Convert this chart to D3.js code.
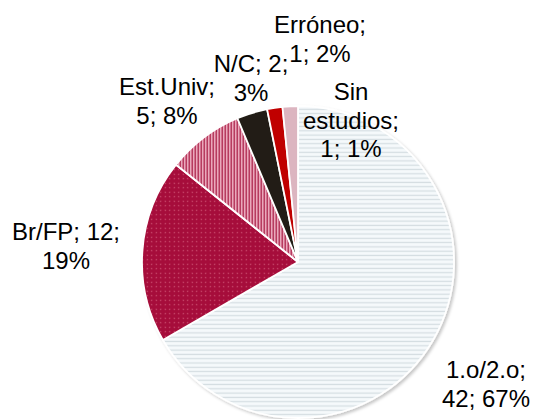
<!DOCTYPE html>
<html><head><meta charset="utf-8">
<script src="https://cdn.jsdelivr.net/npm/d3@7"></script>
<style>html,body{margin:0;padding:0;background:#fff;} svg{display:block}</style>
</head><body>
<svg id="chart" width="533" height="419"></svg>
<script>
// ---- data ----
const categories = ["1.o/2.o", "Br/FP", "Est.Univ", "N/C", "Erróneo", "Sin estudios"];
const counts = [42, 12, 5, 2, 1, 1];
const percentLabels = ["67%", "19%", "8%", "3%", "2%", "1%"];

// ---- layout (not data) ----
const W = 533, H = 419;
const cx = 298, cy = 262, R = 156;
const fontSize = 24, lineH = 28.5;
// words per line for each label, and label anchor (center x, first baseline)
const labelWrap = [[1, 2], [2, 1], [1, 2], [2, 1], [1, 2], [1, 1, 2]];
const labelAt = [[486, 378], [66, 240], [167, 95], [251, 72], [320, 33], [351, 100]];

const svg = d3.select("#chart");
const defs = svg.append("defs");

// patterns / fills
const p0 = defs.append("pattern").attr("id", "p0").attr("patternUnits", "userSpaceOnUse")
  .attr("width", 8).attr("height", 4.3);
p0.append("rect").attr("width", 8).attr("height", 4.3).attr("fill", "#f5f9fb");
p0.append("rect").attr("y", 1.5).attr("width", 8).attr("height", 1.2).attr("fill", "#d4dde1");

const p1 = defs.append("pattern").attr("id", "p1").attr("patternUnits", "userSpaceOnUse")
  .attr("width", 4.5).attr("height", 4.5);
p1.append("rect").attr("width", 4.5).attr("height", 4.5).attr("fill", "#a60f3b");
p1.append("rect").attr("x", 1.7).attr("y", 1.7).attr("width", 1.1).attr("height", 1.1).attr("fill", "#d9607f");

const p2 = defs.append("pattern").attr("id", "p2").attr("patternUnits", "userSpaceOnUse")
  .attr("width", 3).attr("height", 6);
p2.append("rect").attr("width", 3).attr("height", 6).attr("fill", "#b73a5f");
p2.append("rect").attr("width", 1.5).attr("height", 6).attr("fill", "#eaa8bb");

const fills = ["url(#p0)", "url(#p1)", "url(#p2)", "#231f16", "#c00000", "#dcb5c0"];

const shadow = defs.append("filter").attr("id", "shadow")
  .attr("x", "-10%").attr("y", "-10%").attr("width", "120%").attr("height", "120%");
shadow.append("feDropShadow").attr("dx", 2).attr("dy", 2).attr("stdDeviation", 1.8)
  .attr("flood-color", "#000").attr("flood-opacity", 0.22);

const pie = d3.pie().sort(null).value(d => d)(counts);
const arc = d3.arc().innerRadius(0).outerRadius(R);

const g = svg.append("g").attr("transform", `translate(${cx},${cy})`).attr("filter", "url(#shadow)");
g.selectAll("path").data(pie).join("path")
  .attr("d", arc)
  .attr("fill", (d, i) => fills[i])
  .attr("stroke", "#fff")
  .attr("stroke-width", 1.8)
  .attr("stroke-linejoin", "round");

// labels
const labels = svg.append("g")
  .attr("font-family", "'Liberation Sans', Arial, sans-serif")
  .attr("font-size", fontSize)
  .attr("fill", "#000")
  .attr("text-anchor", "middle");

categories.forEach((c, i) => {
  const words = `${c}; ${counts[i]}; ${percentLabels[i]}`.split(" ");
  const lines = [];
  let k = 0;
  labelWrap[i].forEach(n => { lines.push(words.slice(k, k + n).join(" ")); k += n; });
  const t = labels.append("text").attr("x", labelAt[i][0]).attr("y", labelAt[i][1]);
  lines.forEach((ln, j) => {
    t.append("tspan").attr("x", labelAt[i][0]).attr("dy", j === 0 ? 0 : lineH).text(ln);
  });
});
</script>
</body></html>
